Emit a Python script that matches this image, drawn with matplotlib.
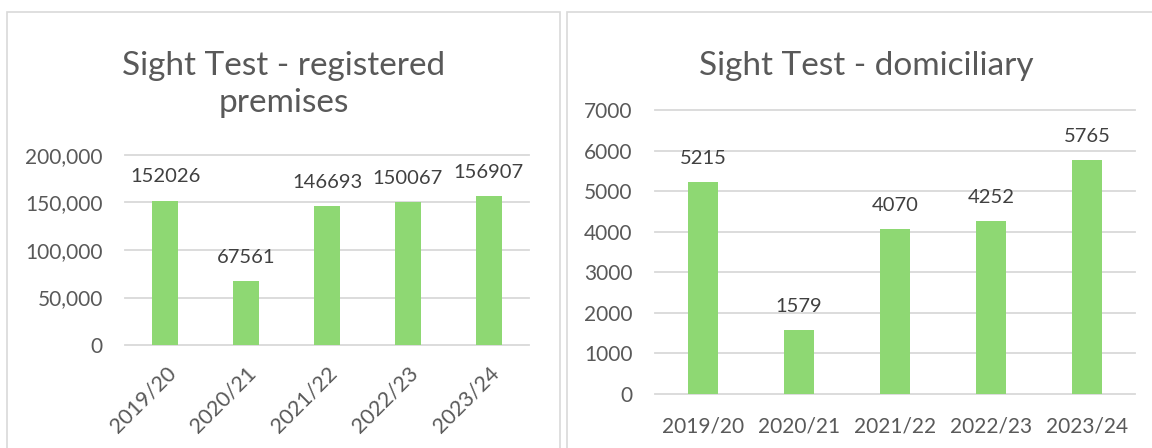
import matplotlib.pyplot as plt
from matplotlib.patches import Rectangle
from matplotlib.transforms import ScaledTranslation

years = ['2019/20', '2020/21', '2021/22', '2022/23', '2023/24']
registered = [152026, 67561, 146693, 150067, 156907]
domiciliary = [5215, 1579, 4070, 4252, 5765]
reg_ticks = [0, 50000, 100000, 150000, 200000]
dom_ticks = [0, 1000, 2000, 3000, 4000, 5000, 6000, 7000]

bar_color = '#8ED873'
grid_color = '#D9D9D9'
text_color = '#595959'
label_color = '#404040'

plt.rcParams['font.family'] = ['Lato', 'DejaVu Sans']

W, H = 1152, 448
fig = plt.figure(figsize=(W / 100, H / 100), dpi=100)


def px(x0, y0, x1, y1):
    # pixel box (top-left origin) -> figure fraction rect
    return [x0 / W, 1 - y1 / H, (x1 - x0) / W, (y1 - y0) / H]


# panel frames
for x0, x1 in [(7, 560), (567, 1170)]:
    fig.add_artist(Rectangle((x0 / W, -0.1), (x1 - x0) / W, 1.1 - 12 / H,
                             transform=fig.transFigure, fill=False,
                             edgecolor=grid_color, lw=1.2))


def bar_panel(ax, values, ticks, fmt, rot):
    ax.bar(range(len(years)), values, width=0.32, color=bar_color, zorder=3)
    ax.set_xlim(-0.5, len(years) - 0.5)
    ax.set_ylim(ticks[0], ticks[-1])
    ax.set_yticks(ticks)
    ax.set_yticklabels([fmt(t) for t in ticks])
    ax.set_xticks(range(len(years)))
    ax.set_xticklabels(years)
    for t in ticks:
        ax.axhline(t, color=grid_color, lw=1.3, zorder=1, clip_on=False)
    for s in ax.spines.values():
        s.set_visible(False)
    ax.tick_params(length=0, labelsize=15, colors=text_color)
    ax.tick_params(axis='y', pad=16)
    if rot:
        ax.tick_params(axis='x', pad=15, labelsize=15.5)
        shift = ScaledTranslation(0.07, -0.04, fig.dpi_scale_trans)
        for lbl in ax.get_xticklabels():
            lbl.set_rotation(45)
            lbl.set_ha('right')
            lbl.set_va('center')
            lbl.set_rotation_mode('anchor')
            lbl.set_transform(lbl.get_transform() + shift)
    else:
        ax.tick_params(axis='x', pad=16)
    for i, v in enumerate(values):
        ax.annotate(str(v), (i, v), xytext=(0, 17), textcoords='offset points',
                    ha='center', va='center', fontsize=14.5, color=label_color)


ax1 = fig.add_axes(px(125, 155, 529, 345))
bar_panel(ax1, registered, reg_ticks, lambda t: f'{t:,}', True)
fig.text(283.5 / W, 1 - 75 / H, 'Sight Test - registered', ha='center',
         va='baseline', fontsize=24, color=text_color)
fig.text(283.5 / W, 1 - 112 / H, 'premises', ha='center',
         va='baseline', fontsize=24, color=text_color)

ax2 = fig.add_axes(px(655, 110, 1135, 394))
bar_panel(ax2, domiciliary, dom_ticks, lambda t: f'{t}', False)
fig.text(866 / W, 1 - 75 / H, 'Sight Test - domiciliary', ha='center',
         va='baseline', fontsize=24, color=text_color)

fig.savefig('out.png', dpi=100)
